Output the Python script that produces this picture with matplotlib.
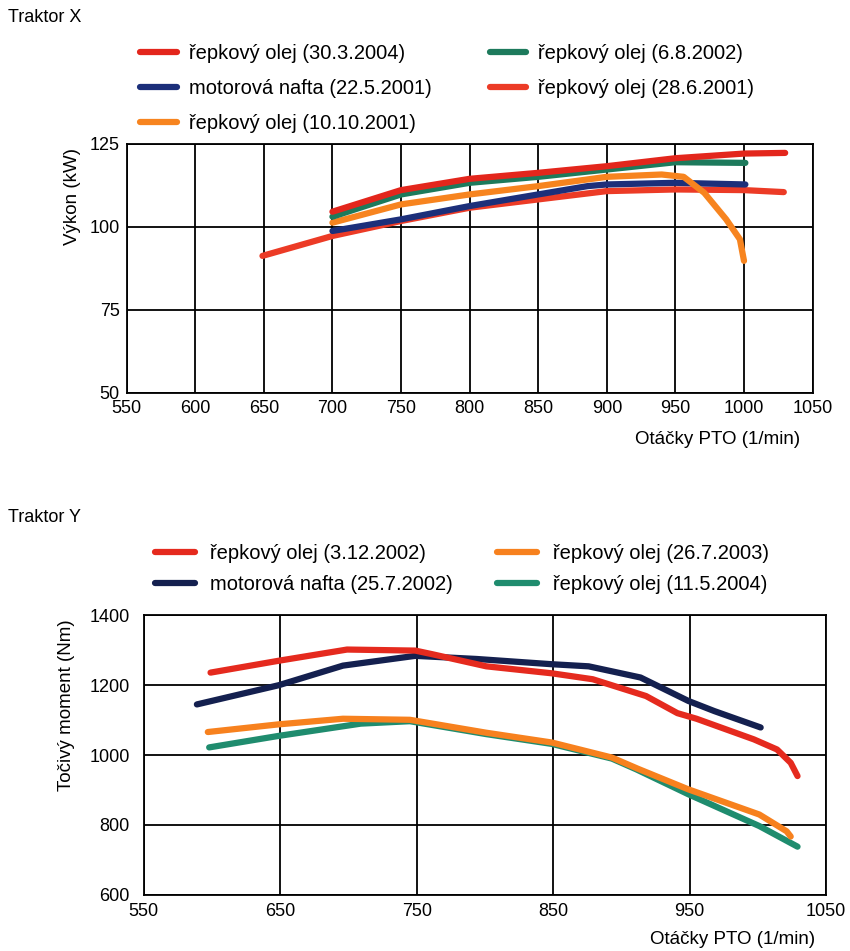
import matplotlib.pyplot as plt

plt.rcParams['font.family'] = ['Liberation Sans', 'DejaVu Sans']

# Traktor X - vykon (kW) vs otacky PTO
x_red04 = [700, 750, 800, 850, 900, 950, 1000, 1030]
y_red04 = [104.5, 111.0, 114.4, 116.2, 118.2, 120.6, 122.0, 122.2]
x_green02 = [700, 750, 800, 850, 900, 950, 1001]
y_green02 = [103.0, 109.7, 113.2, 115.0, 117.2, 119.4, 119.2]
x_orange01 = [700, 750, 800, 850, 900, 940, 956, 971, 987, 997, 1000]
y_orange01 = [101.2, 106.7, 109.7, 112.2, 115.0, 115.7, 115.0, 110.2, 102.2, 96.2, 89.7]
x_nafta01 = [700, 750, 800, 850, 886, 900, 950, 1001]
y_nafta01 = [98.7, 102.2, 106.2, 109.7, 112.2, 112.7, 113.2, 112.7]
x_red01 = [649, 700, 750, 800, 850, 900, 950, 1000, 1029]
y_red01 = [91.2, 97.2, 101.7, 105.7, 108.2, 110.7, 111.2, 111.0, 110.4]

labels_x = ['řepkový olej (30.3.2004)', 'motorová nafta (22.5.2001)',
            'řepkový olej (10.10.2001)', 'řepkový olej (6.8.2002)',
            'řepkový olej (28.6.2001)']

# Traktor Y - tocivy moment (Nm) vs otacky PTO
x_red02 = [599, 649, 699, 749, 761, 801, 849, 879, 918, 941, 955, 997, 1014, 1024, 1029]
y_red02 = [1236, 1270, 1302, 1299, 1289, 1254, 1234, 1217, 1169, 1120, 1104, 1045, 1016, 978, 940]
x_nafta02 = [589, 649, 696, 749, 794, 849, 876, 914, 949, 968, 1002]
y_nafta02 = [1145, 1200, 1256, 1284, 1275, 1260, 1254, 1222, 1155, 1126, 1079]
x_orange03 = [597, 649, 696, 745, 801, 849, 893, 912, 949, 1001, 1021, 1024]
y_orange03 = [1066, 1088, 1104, 1101, 1064, 1036, 993, 961, 902, 830, 782, 767]
x_teal04 = [598, 649, 709, 745, 801, 849, 893, 911, 949, 1001, 1029]
y_teal04 = [1022, 1055, 1090, 1097, 1060, 1032, 990, 959, 888, 797, 738]

labels_y = ['řepkový olej (3.12.2002)', 'motorová nafta (25.7.2002)',
            'řepkový olej (26.7.2003)', 'řepkový olej (11.5.2004)']

fs = 13
fs_leg = 14.5
lw = 4.5

fig = plt.figure(figsize=(8.5, 9.51), dpi=100)

# ---------- Traktor X ----------
ax1 = fig.add_axes([0.149, 0.587, 0.807, 0.262])
l5, = ax1.plot(x_red01, y_red01, color='#ec3b26', lw=lw, solid_capstyle='round')
l2, = ax1.plot(x_nafta01, y_nafta01, color='#1c2f7a', lw=lw, solid_capstyle='round')
l3, = ax1.plot(x_orange01, y_orange01, color='#f7841f', lw=lw, solid_capstyle='round')
l4, = ax1.plot(x_green02, y_green02, color='#1d7a5c', lw=lw, solid_capstyle='round')
l1, = ax1.plot(x_red04, y_red04, color='#e3261c', lw=lw, solid_capstyle='round')
ax1.set_xlim(550, 1050)
ax1.set_ylim(50, 125)
ax1.set_xticks(range(550, 1051, 50))
ax1.set_yticks([50, 75, 100, 125])
ax1.grid(True, color='black', lw=1.3)
ax1.tick_params(length=0, labelsize=fs, pad=5)
for s in ax1.spines.values():
    s.set_linewidth(1.3)
ax1.set_ylabel('Výkon (kW)', fontsize=13.5)
ax1.yaxis.set_label_coords(-0.066, 0.787)

fig.legend([l1, l2, l3, l4, l5], labels_x, loc='upper left',
           bbox_to_anchor=(0.165, 1 - 44 / 951), ncol=2, frameon=False, fontsize=fs_leg,
           handlelength=1.8, handletextpad=0.6, columnspacing=2.9,
           labelspacing=0.8, borderpad=0, borderaxespad=0)

fig.text(8 / 850, 1 - 18 / 951, 'Traktor X', ha='left', va='center', fontsize=fs)
fig.text(800 / 850, 1 - 440 / 951, 'Otáčky PTO (1/min)', ha='right', va='center', fontsize=13.5)

# ---------- Traktor Y ----------
ax2 = fig.add_axes([0.169, 0.059, 0.803, 0.294])
m2, = ax2.plot(x_nafta02, y_nafta02, color='#14204f', lw=lw, solid_capstyle='round')
m1, = ax2.plot(x_red02, y_red02, color='#e52a1e', lw=lw, solid_capstyle='round')
m4, = ax2.plot(x_teal04, y_teal04, color='#1f8c6e', lw=lw, solid_capstyle='round')
m3, = ax2.plot(x_orange03, y_orange03, color='#f7811e', lw=lw, solid_capstyle='round')
ax2.set_xlim(550, 1050)
ax2.set_ylim(600, 1400)
ax2.set_xticks(range(550, 1051, 100))
ax2.set_yticks(range(600, 1401, 200))
ax2.grid(True, color='black', lw=1.3)
ax2.tick_params(length=0, labelsize=fs)
ax2.tick_params(axis='y', pad=10)
ax2.tick_params(axis='x', pad=6)
for s in ax2.spines.values():
    s.set_linewidth(1.3)
ax2.set_ylabel('Točivý moment (Nm)', fontsize=13.5)
ax2.yaxis.set_label_coords(-0.1, 0.68)

fig.legend([m1, m2, m3, m4], labels_y, loc='upper left',
           bbox_to_anchor=(0.182, 1 - 544 / 951), ncol=2, frameon=False, fontsize=fs_leg,
           handlelength=2.0, handletextpad=0.75, columnspacing=2.2,
           labelspacing=0.6, borderpad=0, borderaxespad=0)

fig.text(8 / 850, 1 - 517 / 951, 'Traktor Y', ha='left', va='center', fontsize=fs)
fig.text(815 / 850, 1 - 940 / 951, 'Otáčky PTO (1/min)', ha='right', va='center', fontsize=13.5)

fig.savefig('out.png', dpi=100)
